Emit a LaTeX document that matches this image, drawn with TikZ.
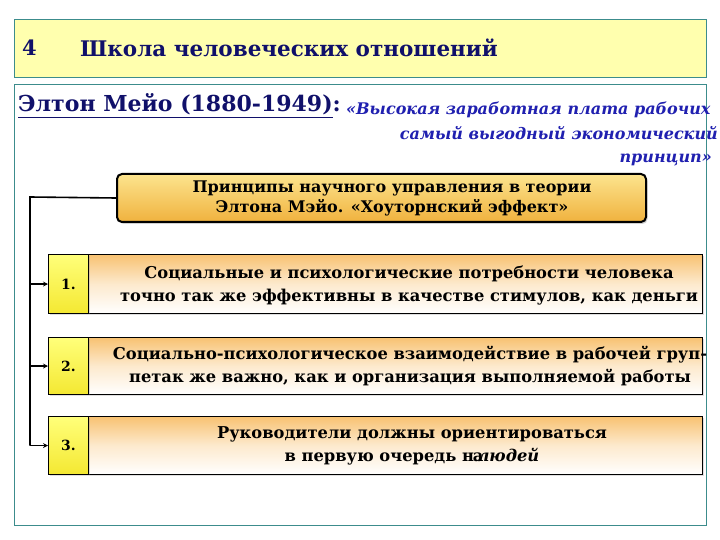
\documentclass[tikz,border=0pt]{standalone}
\usepackage{fontspec}
\setmainfont{DejaVu Serif}
\usetikzlibrary{arrows.meta,shadows}
\definecolor{frameteal}{HTML}{3C8C8C}
\definecolor{titlefill}{HTML}{FFFFAE}
\definecolor{navy}{HTML}{10106A}
\definecolor{quoteblue}{HTML}{2020B0}
\definecolor{goldtop}{HTML}{FCE48E}
\definecolor{goldbot}{HTML}{F0B23E}
\definecolor{orangetop}{HTML}{F8C272}
\definecolor{celltop}{HTML}{FFFF7A}
\definecolor{cellbot}{HTML}{F4E832}
\begin{document}
\begin{tikzpicture}[x=1pt,y=-1pt,
  frame/.style={draw=frameteal, line width=0.8pt, inner sep=0pt, anchor=north west},
  cell/.style={draw=black, line width=1.1pt, top color=celltop, bottom color=cellbot, inner sep=0pt,
     minimum width=40pt, anchor=north west, font=\bfseries\fontsize{14}{16}\selectfont,
     drop shadow={shadow xshift=1pt, shadow yshift=-1.5pt, opacity=0.25}},
  txtbox/.style={draw=black, line width=1.1pt, top color=orangetop, bottom color=white, middle color=orangetop!35!white,
     inner sep=0pt, minimum width=614pt, anchor=north west,
     drop shadow={shadow xshift=1pt, shadow yshift=-1.5pt, opacity=0.25}},
  boxtext/.style={align=center, font=\bfseries\fontsize{16.3}{23}\selectfont, inner sep=0pt},
  quote/.style={text=quoteblue, font=\bfseries\itshape\fontsize{16}{18}\selectfont, inner sep=0pt},
  link/.style={draw=black, line width=1.6pt},
  arrow/.style={link, -{Stealth[length=5pt,width=5pt]}}
]
\useasboundingbox (0,0) rectangle (720,540);
\fill[white] (0,0) rectangle (720,540);
% title
\node[frame, fill=titlefill, minimum width=692pt, minimum height=58pt] (titlebox) at (14,19) {};
\node[anchor=west, text=navy, font=\bfseries\fontsize{21}{22}\selectfont, inner sep=0pt] (num) at (22,48) {4};
\node[anchor=west, text=navy, font=\bfseries\fontsize{21.5}{22}\selectfont, inner sep=0pt] (title) at (80,48) {Школа человеческих отношений};
% main frame
\node[frame, minimum width=692pt, minimum height=441pt] (mainbox) at (14,84) {};
\node[anchor=base west, text=navy, font=\bfseries\fontsize{22}{24}\selectfont, inner sep=0pt] (author) at (18,112) {\underline{Элтон Мейо (1880-1949)}:};
\node[quote, anchor=base west] (q1) at (346,115) {«Высокая заработная плата рабочих};
\node[quote, anchor=base east] (q2) at (718,140) {самый выгодный экономический};
\node[quote, anchor=base east] (q3) at (712,163) {принцип»};
% principles box
\node[draw=black, line width=2pt, rounded corners=5pt, top color=goldtop, bottom color=goldbot,
  minimum width=529pt, minimum height=48pt, inner sep=0pt, anchor=north west,
  drop shadow={shadow xshift=1.5pt, shadow yshift=-2pt, opacity=0.35}] (principles) at (116,173) {};
\node[align=center, font=\bfseries\fontsize{16}{20}\selectfont, inner sep=0pt] (ptext) at (392,198)
  {Принципы научного управления в теории\\Элтона Мэйо. «Хоуторнский эффект»};
% item boxes
\node[txtbox, minimum height=59pt] (t1) at (88,254) {};
\node[cell, minimum height=59pt] (n1) at (48,254) {1.};
\node[txtbox, minimum height=57pt] (t2) at (88,337) {};
\node[cell, minimum height=57pt] (n2) at (48,337) {2.};
\node[txtbox, minimum height=58pt] (t3) at (88,416) {};
\node[cell, minimum height=58pt] (n3) at (48,416) {3.};
\node[boxtext] (x1) at (409,285) {Социальные и психологические потребности человека\\точно так же эффективны в качестве стимулов, как деньги};
\node[boxtext] (x2) at (410,366) {Социально-психологическое взаимодействие в рабочей груп-\\петак же важно, как и организация выполняемой работы};
\node[boxtext] (x3) at (412,446) {Руководители должны ориентироваться\\в первую очередь н\kern-1pt а\kern-6pt\textit{людей}};
% connectors
\coordinate (bus) at (30,197);
\draw[link] (principles.west) -- (bus) -- (bus |- n3.west);
\draw[arrow] (bus |- n1.west) -- (n1.west);
\draw[arrow] (bus |- n2.west) -- (n2.west);
\draw[arrow] (bus |- n3.west) -- (n3.west);
\end{tikzpicture}
\end{document}
